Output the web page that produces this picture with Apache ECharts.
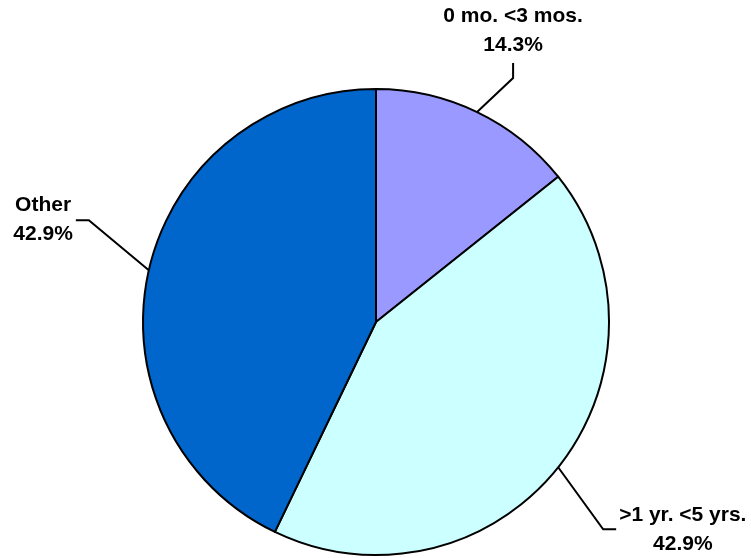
<!DOCTYPE html>
<html>
<head>
<meta charset="utf-8">
<script src="https://cdn.jsdelivr.net/npm/echarts@6/dist/echarts.min.js"></script>
<style>html,body{margin:0;padding:0;background:#fff}#c{width:751px;height:558px}</style>
</head>
<body>
<div id="c"></div>
<script>
const categories = ['0 mo. <3 mos.', '>1 yr. <5 yrs.', 'Other'];
const values = [14.3, 42.9, 42.9];
const colors = ['#9999FF', '#CCFFFF', '#0066CC'];

// label guide offsets relative to the slice edge point: [bend dx, bend dy, end dx, end dy, side]
const guides = [
  [36, -34, 36, -49, 'top'],
  [45, 62, 58, 62, 'right'],
  [-60, -50, -73, -50, 'left']
];

const chart = echarts.init(document.getElementById('c'));
chart.setOption({
  backgroundColor: '#fff',
  animation: false,
  series: [{
    type: 'pie',
    center: [376, 322],
    radius: 233,
    startAngle: 90,
    clockwise: true,
    avoidLabelOverlap: false,
    data: categories.map((n, i) => ({ name: n, value: values[i], itemStyle: { color: colors[i] } })),
    itemStyle: { borderColor: '#000', borderWidth: 2 },
    emphasis: { disabled: true },
    label: {
      show: true,
      position: 'outside',
      color: '#000',
      fontFamily: 'Liberation Sans, Arial, sans-serif',
      fontWeight: 'bold',
      fontSize: 21,
      lineHeight: 29,
      formatter: p => p.name + '\n' + p.value.toFixed(1) + '%'
    },
    labelLine: { show: true, length: 20, length2: 15, lineStyle: { color: '#000', width: 2 } },
    labelLayout: function (params) {
      const g = guides[params.dataIndex];
      const pts = params.labelLinePoints;
      if (!pts) return {};
      const p0 = pts[0];
      const p1 = [p0[0] + g[0], p0[1] + g[1]];
      const p2 = [p0[0] + g[2], p0[1] + g[3]];
      const w = params.labelRect.width;
      let x, y, va = 'middle';
      if (g[4] === 'top') { x = p2[0]; y = p2[1] - 3; va = 'bottom'; }
      else if (g[4] === 'right') { x = p2[0] + 3 + w / 2; y = p2[1]; }
      else { x = p2[0] - 3 - w / 2; y = p2[1]; }
      return { x: x, y: y, align: 'center', verticalAlign: va, labelLinePoints: [p0, p1, p2] };
    }
  }]
});
</script>
</body>
</html>
